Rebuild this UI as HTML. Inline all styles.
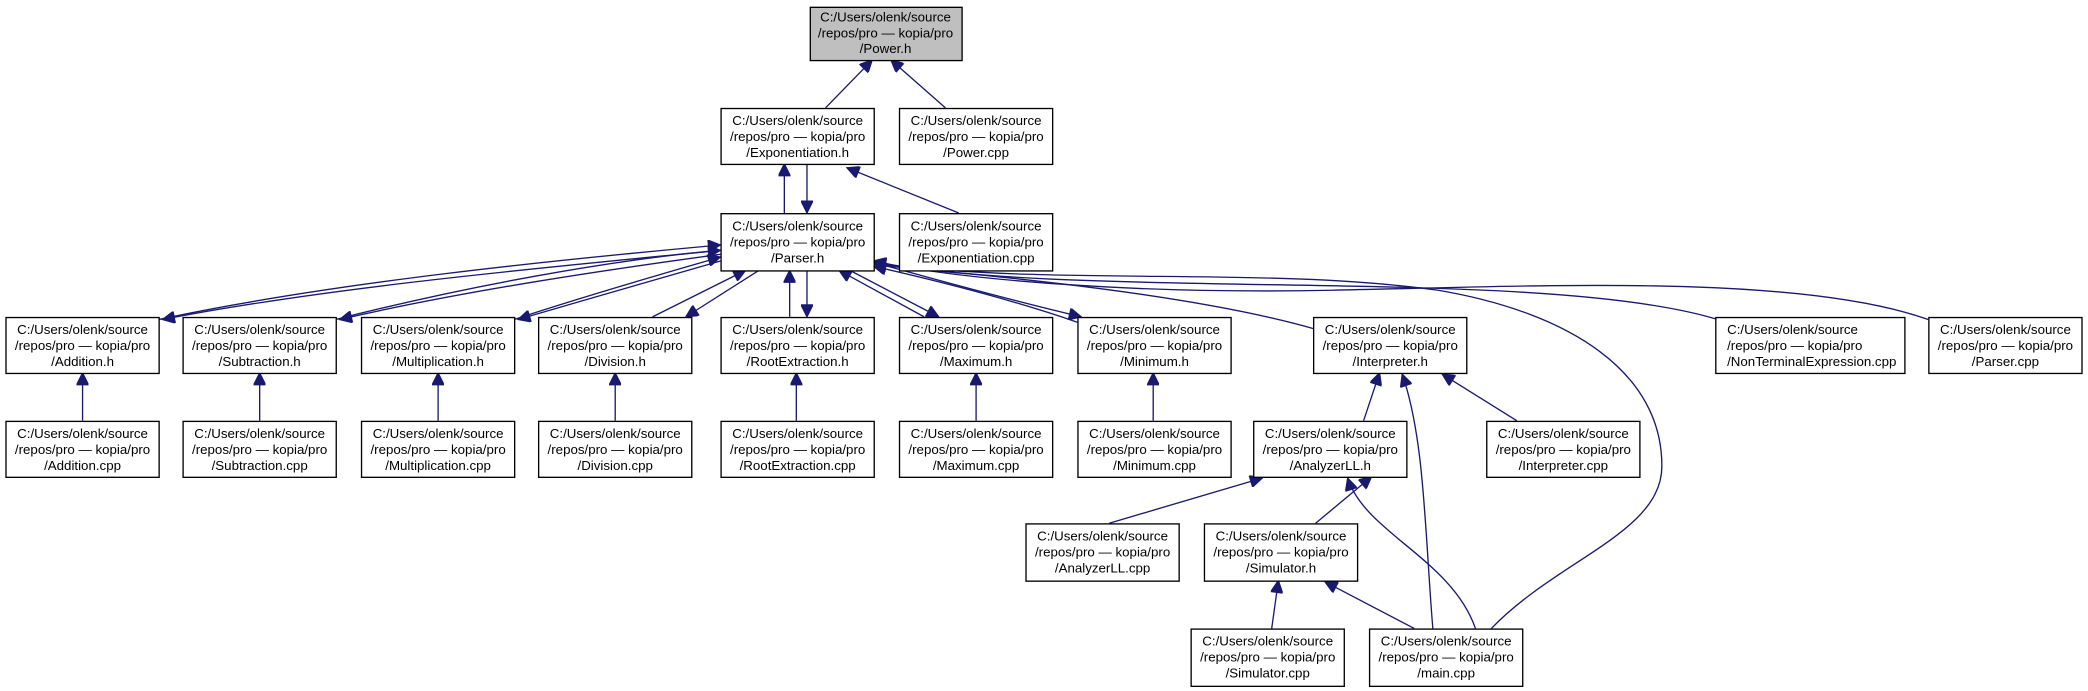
<!DOCTYPE html>
<html><head><meta charset="utf-8"><style>
html,body{margin:0;padding:0;background:#fff;}
svg{display:block}
text{font-family:"Liberation Sans",Arial,sans-serif;font-size:10px;fill:#000;text-anchor:middle}
rect{fill:#fff;stroke:#000;stroke-width:1}
path{fill:none;stroke:#191970;stroke-width:1}
</style></head><body>
<svg width="2088" height="691" viewBox="0 0 1568 519" preserveAspectRatio="none">
<defs><marker id="a" viewBox="0 0 10 10" refX="10" refY="5" markerWidth="11" markerHeight="9" orient="auto" markerUnits="userSpaceOnUse"><path d="M0,0L10,5L0,10z" style="fill:#191970;stroke:#191970"/></marker></defs>
<g marker-end="url(#a)">
<path d="M620,81L655,45"/>
<path d="M710,81L669,45"/>
<path d="M589,160L589,123"/>
<path d="M606,123L606,160"/>
<path d="M720,160L636,126"/>
<path d="M119,240C250,212,420,195,541,184"/>
<path d="M541,188C420,200,250,215,122,240"/>
<path d="M252,240C350,215,460,195,541,188"/>
<path d="M541,191C460,202,350,218,255,240"/>
<path d="M386,240C440,222,500,205,541,193"/>
<path d="M541,196C500,208,440,225,389,240"/>
<path d="M490,238L560,203"/>
<path d="M570,203L515,238"/>
<path d="M593,238L593,203"/>
<path d="M606,203L606,238"/>
<path d="M694,238L630,203"/>
<path d="M638,203L705,238"/>
<path d="M809,242C760,225,700,210,656,200"/>
<path d="M656,197C720,215,770,228,812,238"/>
<path d="M987,247C900,222,760,208,656,199"/>
<path d="M1290,240C1160,200,820,226,656,197"/>
<path d="M1448,240C1350,205,1150,215,1000,218C850,221,720,210,656,196"/>
<path d="M1120,472C1170,420,1248,400,1248,350C1248,280,1180,235,1080,218C950,200,800,215,656,198"/>
<path d="M62,316L62,280"/>
<path d="M195,316L195,280"/>
<path d="M329,316L329,280"/>
<path d="M462,316L462,280"/>
<path d="M598,316L598,280"/>
<path d="M733,316L733,280"/>
<path d="M866,316L866,280"/>
<path d="M1024,316L1036,280"/>
<path d="M1139,316L1083,281"/>
<path d="M1076,472C1070,400,1070,330,1053,281"/>
<path d="M988,393L1030,358"/>
<path d="M833,393L948,359"/>
<path d="M1108,472C1090,420,1025,400,1012,359"/>
<path d="M955,472L960,436"/>
<path d="M1062,472L995,437"/>
</g>
<g>
<rect x="608.5" y="5.5" width="114" height="40" style="fill:#bfbfbf"/>
<rect x="541.5" y="81.5" width="115" height="42"/>
<rect x="675.5" y="81.5" width="115" height="42"/>
<rect x="541.5" y="160.5" width="115" height="43"/>
<rect x="675.5" y="160.5" width="115" height="43"/>
<rect x="4.5" y="238.5" width="115" height="42"/>
<rect x="137.5" y="238.5" width="115" height="42"/>
<rect x="271.5" y="238.5" width="115" height="42"/>
<rect x="404.5" y="238.5" width="115" height="42"/>
<rect x="541.5" y="238.5" width="115" height="42"/>
<rect x="675.5" y="238.5" width="115" height="42"/>
<rect x="809.5" y="238.5" width="115" height="42"/>
<rect x="986.5" y="238.5" width="115" height="42"/>
<rect x="1288.5" y="238.5" width="142" height="42"/>
<rect x="1448.5" y="238.5" width="115" height="42"/>
<rect x="4.5" y="316.5" width="115" height="42"/>
<rect x="137.5" y="316.5" width="115" height="42"/>
<rect x="271.5" y="316.5" width="115" height="42"/>
<rect x="404.5" y="316.5" width="115" height="42"/>
<rect x="541.5" y="316.5" width="115" height="42"/>
<rect x="675.5" y="316.5" width="115" height="42"/>
<rect x="809.5" y="316.5" width="115" height="42"/>
<rect x="941.5" y="316.5" width="115" height="42"/>
<rect x="1116.5" y="316.5" width="115" height="42"/>
<rect x="770.5" y="393.5" width="115" height="43"/>
<rect x="904.5" y="393.5" width="115" height="43"/>
<rect x="894.5" y="472.5" width="115" height="43"/>
<rect x="1028.5" y="472.5" width="115" height="43"/>
</g>
<g>
<text x="665" y="16">C:/Users/olenk/source</text><text x="665" y="28">/repos/pro — kopia/pro</text><text x="665" y="40">/Power.h</text>
<text x="599" y="94">C:/Users/olenk/source</text><text x="599" y="106">/repos/pro — kopia/pro</text><text x="599" y="118">/Exponentiation.h</text>
<text x="733" y="94">C:/Users/olenk/source</text><text x="733" y="106">/repos/pro — kopia/pro</text><text x="733" y="118">/Power.cpp</text>
<text x="599" y="173">C:/Users/olenk/source</text><text x="599" y="185">/repos/pro — kopia/pro</text><text x="599" y="197">/Parser.h</text>
<text x="733" y="173">C:/Users/olenk/source</text><text x="733" y="185">/repos/pro — kopia/pro</text><text x="733" y="197">/Exponentiation.cpp</text>
<text x="62" y="251">C:/Users/olenk/source</text><text x="62" y="263">/repos/pro — kopia/pro</text><text x="62" y="275">/Addition.h</text>
<text x="195" y="251">C:/Users/olenk/source</text><text x="195" y="263">/repos/pro — kopia/pro</text><text x="195" y="275">/Subtraction.h</text>
<text x="329" y="251">C:/Users/olenk/source</text><text x="329" y="263">/repos/pro — kopia/pro</text><text x="329" y="275">/Multiplication.h</text>
<text x="462" y="251">C:/Users/olenk/source</text><text x="462" y="263">/repos/pro — kopia/pro</text><text x="462" y="275">/Division.h</text>
<text x="599" y="251">C:/Users/olenk/source</text><text x="599" y="263">/repos/pro — kopia/pro</text><text x="599" y="275">/RootExtraction.h</text>
<text x="733" y="251">C:/Users/olenk/source</text><text x="733" y="263">/repos/pro — kopia/pro</text><text x="733" y="275">/Maximum.h</text>
<text x="867" y="251">C:/Users/olenk/source</text><text x="867" y="263">/repos/pro — kopia/pro</text><text x="867" y="275">/Minimum.h</text>
<text x="1044" y="251">C:/Users/olenk/source</text><text x="1044" y="263">/repos/pro — kopia/pro</text><text x="1044" y="275">/Interpreter.h</text>
<text x="1297" y="251" style="text-anchor:start">C:/Users/olenk/source</text><text x="1297" y="263" style="text-anchor:start">/repos/pro — kopia/pro</text><text x="1297" y="275" style="text-anchor:start">/NonTerminalExpression.cpp</text>
<text x="1506" y="251">C:/Users/olenk/source</text><text x="1506" y="263">/repos/pro — kopia/pro</text><text x="1506" y="275">/Parser.cpp</text>
<text x="62" y="329">C:/Users/olenk/source</text><text x="62" y="341">/repos/pro — kopia/pro</text><text x="62" y="353">/Addition.cpp</text>
<text x="195" y="329">C:/Users/olenk/source</text><text x="195" y="341">/repos/pro — kopia/pro</text><text x="195" y="353">/Subtraction.cpp</text>
<text x="329" y="329">C:/Users/olenk/source</text><text x="329" y="341">/repos/pro — kopia/pro</text><text x="329" y="353">/Multiplication.cpp</text>
<text x="462" y="329">C:/Users/olenk/source</text><text x="462" y="341">/repos/pro — kopia/pro</text><text x="462" y="353">/Division.cpp</text>
<text x="599" y="329">C:/Users/olenk/source</text><text x="599" y="341">/repos/pro — kopia/pro</text><text x="599" y="353">/RootExtraction.cpp</text>
<text x="733" y="329">C:/Users/olenk/source</text><text x="733" y="341">/repos/pro — kopia/pro</text><text x="733" y="353">/Maximum.cpp</text>
<text x="867" y="329">C:/Users/olenk/source</text><text x="867" y="341">/repos/pro — kopia/pro</text><text x="867" y="353">/Minimum.cpp</text>
<text x="999" y="329">C:/Users/olenk/source</text><text x="999" y="341">/repos/pro — kopia/pro</text><text x="999" y="353">/AnalyzerLL.h</text>
<text x="1174" y="329">C:/Users/olenk/source</text><text x="1174" y="341">/repos/pro — kopia/pro</text><text x="1174" y="353">/Interpreter.cpp</text>
<text x="828" y="406">C:/Users/olenk/source</text><text x="828" y="418">/repos/pro — kopia/pro</text><text x="828" y="430">/AnalyzerLL.cpp</text>
<text x="962" y="406">C:/Users/olenk/source</text><text x="962" y="418">/repos/pro — kopia/pro</text><text x="962" y="430">/Simulator.h</text>
<text x="952" y="485">C:/Users/olenk/source</text><text x="952" y="497">/repos/pro — kopia/pro</text><text x="952" y="509">/Simulator.cpp</text>
<text x="1086" y="485">C:/Users/olenk/source</text><text x="1086" y="497">/repos/pro — kopia/pro</text><text x="1086" y="509">/main.cpp</text>
</g>
</svg>
</body></html>
